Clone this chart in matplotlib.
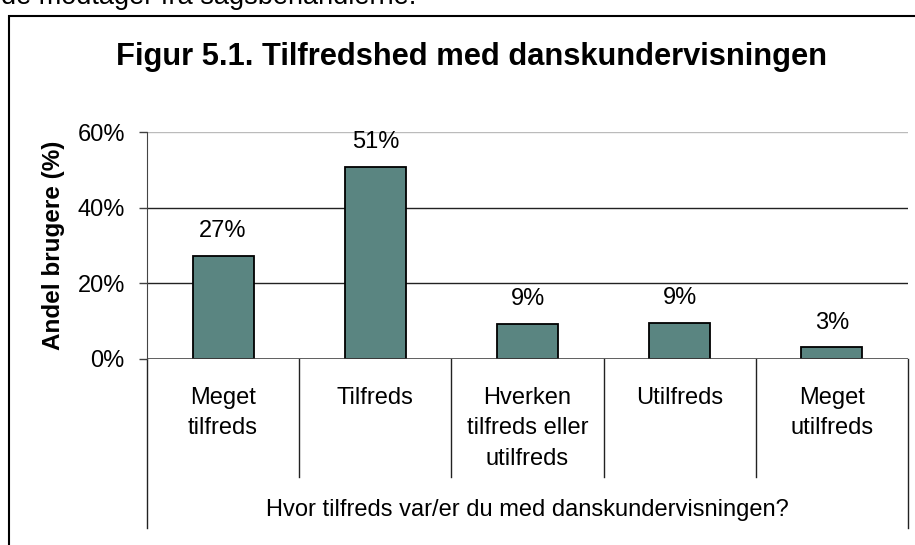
import matplotlib
matplotlib.use("Agg")
import matplotlib.pyplot as plt
import matplotlib.transforms as mtransforms
from matplotlib.patches import Rectangle

plt.rcParams['font.family'] = ['Liberation Sans', 'DejaVu Sans']

# data
categories = ["Meget\ntilfreds", "Tilfreds", "Hverken\ntilfreds eller\nutilfreds",
              "Utilfreds", "Meget\nutilfreds"]
shares = [27.2, 50.9, 9.2, 9.4, 3.0]
yticks = [0, 20, 40, 60]

title = "Figur 5.1. Tilfredshed med danskundervisningen"
ylabel = "Andel brugere (%)"
xlabel = "Hvor tilfreds var/er du med danskundervisningen?"
top_text = "de modtager fra sagsbehandlerne."

bar_color = "#5a8581"

W, H = 915, 545
fig = plt.figure(figsize=(W / 100, H / 100), dpi=100)

def px(x0, y0, x1, y1):
    # pixel box -> figure fraction [left, bottom, width, height]
    return [x0 / W, 1 - y1 / H, (x1 - x0) / W, (y1 - y0) / H]

ax = fig.add_axes(px(147, 132.3, 908, 358.7))

# chart frame + cut-off line of text above it
fig.patches.append(Rectangle((9 / W, -0.05), 1.2, (1 - 16 / H) + 0.05, transform=fig.transFigure,
                             fill=False, edgecolor="black", linewidth=1.5, zorder=0))
fig.text(1 / W, 1 - 4 / H, top_text, fontsize=19.5, va="baseline", ha="left")

x = list(range(len(categories)))
ax.bar(x, shares, width=0.4, color=bar_color, edgecolor="black", linewidth=1.3, zorder=3)

for xi, v in zip(x, shares):
    ax.annotate(f"{v:.0f}%", (xi, v), xytext=(0, 13.5), textcoords="offset points",
                ha="center", va="baseline", fontsize=17)

ax.set_xlim(-0.5, len(categories) - 0.5)
ax.set_ylim(0, 60)
ax.set_yticks(yticks)
ax.set_yticklabels([f"{t}%" for t in yticks], fontsize=17)
ax.tick_params(axis="y", length=6, width=1, pad=10, color="#404040")
ax.set_xticks([])

# gridlines
for t in yticks[1:]:
    ax.axhline(t, color="#bbbbbb" if t == 60 else "#222222", linewidth=1, zorder=1)

for s in ["top", "right", "bottom"]:
    ax.spines[s].set_visible(False)
ax.spines["left"].set_color("#444444")
ax.axhline(0, color="#444444", linewidth=1.2, zorder=4)

# category separators below the axis
trans = mtransforms.blended_transform_factory(ax.transData, ax.transAxes)
n = len(categories)
for b in range(n + 1):
    bx = b - 0.5
    low = -0.748 if b in (0, n) else -0.5225
    ax.plot([bx, bx], [0, low], transform=trans, color="#222222", linewidth=1, clip_on=False)

for xi, lab in zip(x, categories):
    ax.text(xi, -0.123, lab, transform=trans, ha="center", va="top", fontsize=17, linespacing=1.5)

ax.text(0.5, -0.67, xlabel, transform=ax.transAxes, ha="center", va="center", fontsize=17)
ax.set_ylabel(ylabel, fontsize=17.5, fontweight="bold", labelpad=9)

fig.text(472 / W, 1 - 57 / H, title, fontsize=22.2, fontweight="bold", ha="center", va="center")

fig.savefig("out.png", dpi=100)
